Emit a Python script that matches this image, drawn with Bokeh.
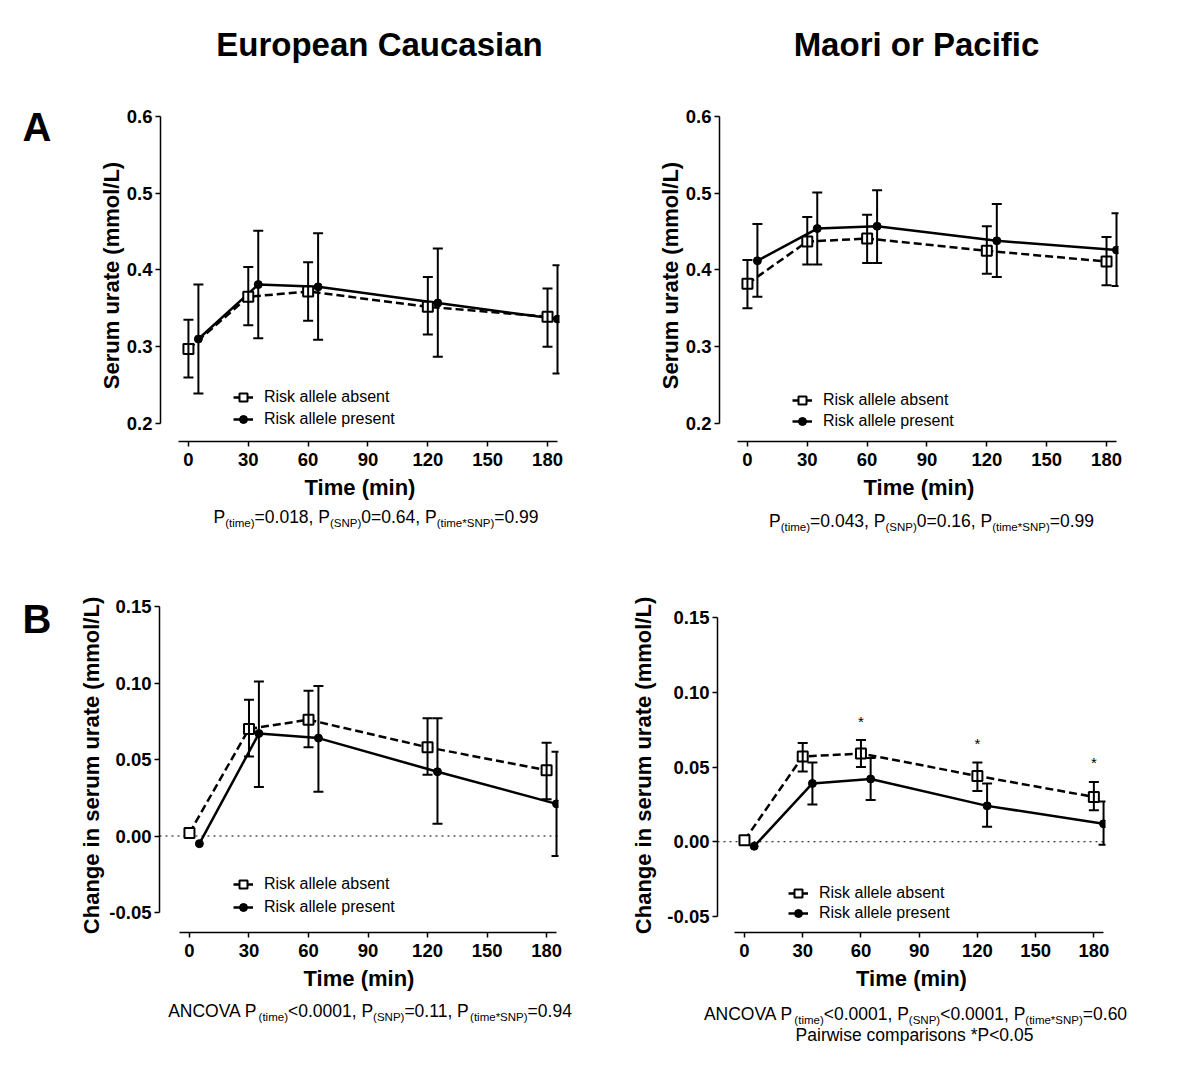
from bokeh.plotting import figure
from bokeh.models import (Range1d, FixedTicker, NumeralTickFormatter, Whisker, TeeHead,
                          ColumnDataSource, Legend, LegendItem, Span)
from bokeh.layouts import column, row
from bokeh.embed import file_html
from bokeh.resources import INLINE
from bokeh.core.properties import value

FONT = "Liberation Sans"

# ---------------- data ----------------
time_min = [0, 30, 60, 120, 180]
x_ticks = [0, 30, 60, 90, 120, 150, 180]
y_ticks_a = [0.2, 0.3, 0.4, 0.5, 0.6]
y_ticks_b = [-0.05, 0.0, 0.05, 0.10, 0.15]

# A: serum urate (mmol/L), European Caucasian
eu_abs_mean = [0.297, 0.365, 0.372, 0.352, 0.339]
eu_abs_upper = [0.335, 0.404, 0.410, 0.391, 0.376]
eu_abs_lower = [0.260, 0.328, 0.334, 0.316, 0.300]
eu_pre_mean = [0.310, 0.381, 0.378, 0.357, 0.336]
eu_pre_upper = [0.381, 0.451, 0.448, 0.428, 0.406]
eu_pre_lower = [0.239, 0.311, 0.309, 0.287, 0.265]

# A: serum urate (mmol/L), Maori or Pacific
mp_abs_mean = [0.382, 0.437, 0.441, 0.425, 0.411]
mp_abs_upper = [0.413, 0.469, 0.472, 0.457, 0.443]
mp_abs_lower = [0.350, 0.407, 0.409, 0.395, 0.380]
mp_pre_mean = [0.412, 0.454, 0.457, 0.438, 0.426]
mp_pre_upper = [0.460, 0.501, 0.504, 0.486, 0.474]
mp_pre_lower = [0.365, 0.407, 0.409, 0.391, 0.379]

# B: change in serum urate (mmol/L), European Caucasian
eu_chg_abs_mean = [0.002, 0.070, 0.076, 0.058, 0.043]
eu_chg_abs_upper = [0.002, 0.089, 0.095, 0.077, 0.061]
eu_chg_abs_lower = [0.002, 0.052, 0.058, 0.040, 0.024]
eu_chg_pre_mean = [-0.005, 0.067, 0.064, 0.042, 0.021]
eu_chg_pre_upper = [-0.005, 0.101, 0.098, 0.077, 0.055]
eu_chg_pre_lower = [-0.005, 0.032, 0.029, 0.008, -0.013]

# B: change in serum urate (mmol/L), Maori or Pacific
mp_chg_abs_mean = [0.001, 0.057, 0.059, 0.044, 0.030]
mp_chg_abs_upper = [0.001, 0.066, 0.068, 0.053, 0.040]
mp_chg_abs_lower = [0.001, 0.047, 0.050, 0.034, 0.021]
mp_chg_pre_mean = [-0.003, 0.039, 0.042, 0.024, 0.012]
mp_chg_pre_upper = [-0.003, 0.053, 0.056, 0.039, 0.027]
mp_chg_pre_lower = [-0.003, 0.025, 0.028, 0.010, -0.002]

sig_times = [60, 120, 180]   # pairwise comparisons *P<0.05 (Maori or Pacific, change)

label_absent = "Risk allele absent"
label_present = "Risk allele present"
column_titles = ["European Caucasian", "Maori or Pacific"]
panel_letters = ["A", "B"]
DODGE = 5  # "present" group drawn 5 min to the right

# ---------------- text helpers ----------------
W = {' ': 278, '(': 333, ')': 333, '*': 389, ',': 278, '.': 278, '<': 584, '=': 584,
     'A': 667, 'C': 722, 'N': 722, 'O': 778, 'P': 667, 'S': 667, 'V': 667,
     'a': 556, 'c': 500, 'e': 556, 'i': 222, 'm': 833, 'n': 556, 'o': 556,
     'p': 556, 'r': 333, 's': 500, 't': 278, 'w': 722, 'l': 222}
for d in "0123456789":
    W[d] = 556

BASE_FIX = 0.35  # em fraction: pull text glyph baselines up to their intended place


def tw(s, size):
    return sum(W.get(c, 556) for c in s) / 1000.0 * size


def text_fig(width, height, top, borders=(0, 0, 0, 0)):
    """Figure without axes used as a text canvas; its data coords are page pixels."""
    bl, br, bt, bb = borders
    f = figure(frame_width=width, frame_height=height, title=None,
               x_range=Range1d(0, width), y_range=Range1d(top + height, top),
               min_border_left=bl, min_border_right=br, min_border_top=bt, min_border_bottom=bb,
               x_axis_type=None, y_axis_type=None,
               output_backend="svg", toolbar_location=None, tools="")
    f.outline_line_color = None
    f.background_fill_color = "white"
    f.border_fill_color = "white"
    return f


def put_text(f, x, y, text, size, bold=False, align="left"):
    f.text(x=[x], y=[y - BASE_FIX * size], text=[text], text_font=value(FONT),
           text_font_size=f"{size}px",
           text_font_style="bold" if bold else "normal", text_color="black",
           text_align=align, text_baseline="alphabetic")


def add_caption(f, segments, cx, base_y, size=17.5, sub=11.5, drop=4):
    total = sum(tw(t, sub if s else size) for t, s in segments)
    x = cx - total / 2.0
    for t, s in segments:
        fs = sub if s else size
        put_text(f, x, base_y + (drop if s else 0), t, fs)
        x += tw(t, fs)


# ---------------- panel helper ----------------
def make_panel(fw, fh, xr, yr, borders, yticks, yfmt, ybounds, ylabel, ylab_standoff,
               abs_m, abs_u, abs_l, pre_m, pre_u, pre_l, legend_loc, legend_spacing,
               zero_line=False):
    bl, br, bt, bb = borders
    p = figure(frame_width=fw, frame_height=fh, title=None,
               x_range=Range1d(*xr), y_range=Range1d(*yr),
               min_border_left=bl, min_border_right=br, min_border_top=bt, min_border_bottom=bb,
               output_backend="svg", toolbar_location=None, tools="")
    p.outline_line_color = None
    p.xgrid.visible = False
    p.ygrid.visible = False
    p.background_fill_color = "white"
    p.border_fill_color = "white"

    p.xaxis.ticker = FixedTicker(ticks=x_ticks, minor_ticks=[])
    p.xaxis.bounds = (-5, 185)
    p.yaxis.ticker = FixedTicker(ticks=yticks, minor_ticks=[])
    p.yaxis.bounds = ybounds
    p.yaxis.formatter = NumeralTickFormatter(format=yfmt)
    p.xaxis.axis_label = "Time (min)"
    p.yaxis.axis_label = ylabel
    for ax in p.axis:
        ax.axis_line_width = 1.5
        ax.axis_line_color = "black"
        ax.major_tick_line_width = 1.5
        ax.major_tick_line_color = "black"
        ax.major_tick_out = 5
        ax.major_tick_in = 0
        ax.minor_tick_line_color = None
        ax.major_label_text_font = FONT
        ax.major_label_text_font_size = "18.5px"
        ax.major_label_text_font_style = "bold"
        ax.major_label_text_color = "black"
        ax.axis_label_text_font = FONT
        ax.axis_label_text_font_size = "22px"
        ax.axis_label_text_font_style = "bold"
        ax.axis_label_text_color = "black"
    p.xaxis.major_label_standoff = 6
    p.xaxis.axis_label_standoff = 6
    p.yaxis.major_label_standoff = 3
    p.yaxis.axis_label_standoff = ylab_standoff

    if zero_line:
        p.add_layout(Span(location=0, dimension="width", line_color="black",
                          line_width=1, line_dash="dotted", level="underlay"))

    x_abs = list(time_min)
    x_pre = [t + DODGE for t in time_min]

    la = p.line(x_abs, abs_m, line_color="black", line_width=2.5, line_dash="8 4")
    lp = p.line(x_pre, pre_m, line_color="black", line_width=2.5)

    for xs, u, l in ((x_abs, abs_u, abs_l), (x_pre, pre_u, pre_l)):
        idx = [i for i in range(len(xs)) if u[i] != l[i]]
        src = ColumnDataSource(dict(x=[xs[i] for i in idx], upper=[u[i] for i in idx],
                                    lower=[l[i] for i in idx]))
        p.add_layout(Whisker(source=src, base="x", upper="upper", lower="lower",
                             line_width=2, line_color="black", level="glyph",
                             upper_head=TeeHead(size=10, line_width=2, line_color="black"),
                             lower_head=TeeHead(size=10, line_width=2, line_color="black")))

    sa = p.scatter(x_abs, abs_m, marker="square", size=10, fill_color="white",
                   line_color="black", line_width=2)
    sp = p.scatter(x_pre, pre_m, marker="circle", size=8, fill_color="black",
                   line_color="black", line_width=1)

    leg = Legend(items=[LegendItem(label=label_absent, renderers=[la, sa]),
                        LegendItem(label=label_present, renderers=[lp, sp])],
                 location=legend_loc, glyph_width=20, glyph_height=20, label_height=20,
                 label_standoff=11, spacing=legend_spacing, padding=0, margin=0,
                 border_line_color=None, background_fill_alpha=0,
                 label_text_font=FONT, label_text_font_size="16px", label_text_color="black")
    p.add_layout(leg)
    return p


YLAB_A = "Serum urate (mmol/L)"
YLAB_B = "Change in serum urate (mmol/L)"

# ---- vertical plan (page px): header 0-100, row A 100-503, captions 503-545,
#      row B 545-992, captions 992-1050
LW = 60  # width of the panel-letter strip

# header with column titles
hdr = text_fig(1184, 100, 0)
put_text(hdr, 379, 56, column_titles[0], 33, bold=True, align="center")
put_text(hdr, 916, 56, column_titles[1], 33, bold=True, align="center")

# row A: frame 109-441
rowA_b = (9, 62)
letA = text_fig(LW, 332, 109, (0, 0) + rowA_b)
put_text(letA, 22, 140, panel_letters[0], 40, bold=True)
p1 = make_panel(399, 332, (-14, 186), (0.1765, 0.6091), (100, 10) + rowA_b,
                y_ticks_a, "0.0", (0.2, 0.6), YLAB_A, 0,
                eu_abs_mean, eu_abs_upper, eu_abs_lower, eu_pre_mean, eu_pre_upper, eu_pre_lower,
                (73, 12), 2)
p2 = make_panel(399, 332, (-14, 186), (0.1765, 0.6091), (150, 60) + rowA_b,
                y_ticks_a, "0.0", (0.2, 0.6), YLAB_A, 0,
                mp_abs_mean, mp_abs_upper, mp_abs_lower, mp_pre_mean, mp_pre_upper, mp_pre_lower,
                (73, 10), 1)

capA = text_fig(1184, 42, 503)
add_caption(capA, [("P", 0), ("(time)", 1), ("=0.018, P", 0), ("(SNP)", 1),
                   ("0=0.64, P", 0), ("(time*SNP)", 1), ("=0.99", 0)], 375.5, 523)
add_caption(capA, [("P", 0), ("(time)", 1), ("=0.043, P", 0), ("(SNP)", 1),
                   ("0=0.16, P", 0), ("(time*SNP)", 1), ("=0.99", 0)], 931, 527)

# row B: frame 598-932
rowB_b = (53, 60)
letB = text_fig(LW, 334, 598, (0, 0) + rowB_b)
put_text(letB, 22, 632, panel_letters[1], 40, bold=True)
p3 = make_panel(399, 334, (-15.1, 186), (-0.06307, 0.15523), (99, 10) + rowB_b,
                y_ticks_b, "0.00", (-0.05, 0.15), YLAB_B, 2,
                eu_chg_abs_mean, eu_chg_abs_upper, eu_chg_abs_lower,
                eu_chg_pre_mean, eu_chg_pre_upper, eu_chg_pre_lower,
                (74, 15), 3, zero_line=True)
p4 = make_panel(388, 334, (-13.9, 186), (-0.0607, 0.16271), (149, 60) + rowB_b,
                y_ticks_b, "0.00", (-0.05, 0.15), YLAB_B, 8,
                mp_chg_abs_mean, mp_chg_abs_upper, mp_chg_abs_lower,
                mp_chg_pre_mean, mp_chg_pre_upper, mp_chg_pre_lower,
                (71, 9), 0, zero_line=True)

# significance stars above the "absent" upper error bar
sig_upper = [mp_chg_abs_upper[time_min.index(t)] for t in sig_times]
p4.text(x=sig_times, y=sig_upper, text=["*"] * len(sig_times), text_font=value(FONT),
        text_font_size="15px", text_align="center", text_baseline="alphabetic",
        y_offset=-19, text_color="black")

capB = text_fig(1184, 58, 992)
add_caption(capB, [("ANCOVA P", 0), ("(time)", 1), ("<0.0001, P", 0), ("(SNP)", 1),
                   ("=0.11, P", 0), ("(time*SNP)", 1), ("=0.94", 0)], 369.5, 1016)
add_caption(capB, [("ANCOVA P", 0), ("(time)", 1), ("<0.0001, P", 0), ("(SNP)", 1),
                   ("<0.0001, P", 0), ("(time*SNP)", 1), ("=0.60", 0)], 915, 1019)
add_caption(capB, [("Pairwise comparisons *P<0.05", 0)], 914, 1040)

layout = column(hdr, row(letA, p1, p2), capA, row(letB, p3, p4), capB)

with open("out.html", "w") as f:
    f.write(file_html(layout, INLINE))
